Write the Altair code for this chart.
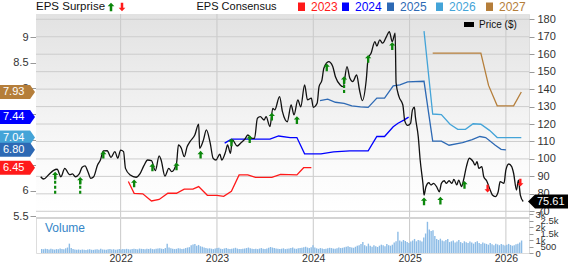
import altair as alt
import pandas as pd

# ---------------- data ----------------
# Weekly closing price ($), time as decimal year
price_t = [2021.17, 2021.20, 2021.25, 2021.30, 2021.34, 2021.38, 2021.42, 2021.47, 2021.50, 2021.53,
           2021.57, 2021.60, 2021.63, 2021.66, 2021.69, 2021.72, 2021.76, 2021.79, 2021.82, 2021.86,
           2021.90, 2021.94, 2021.97, 2022.00, 2022.03, 2022.05, 2022.10, 2022.16, 2022.20, 2022.24,
           2022.28, 2022.32, 2022.36, 2022.40, 2022.42, 2022.46, 2022.50, 2022.53, 2022.58, 2022.60,
           2022.63, 2022.66, 2022.69, 2022.72, 2022.77, 2022.81, 2022.82, 2022.86, 2022.89, 2022.93,
           2022.96, 2022.99, 2023.03, 2023.05, 2023.09, 2023.11, 2023.14, 2023.16, 2023.21, 2023.25,
           2023.29, 2023.32, 2023.36, 2023.39, 2023.42, 2023.45, 2023.49, 2023.51, 2023.55, 2023.58,
           2023.60, 2023.65, 2023.68, 2023.71, 2023.73, 2023.77, 2023.80, 2023.84, 2023.87, 2023.91,
           2023.94, 2023.98, 2024.00, 2024.04, 2024.06, 2024.09, 2024.11, 2024.16, 2024.20, 2024.23,
           2024.28, 2024.31, 2024.35, 2024.38, 2024.41, 2024.45, 2024.48, 2024.51, 2024.55, 2024.57,
           2024.60, 2024.64, 2024.66, 2024.69, 2024.72, 2024.76, 2024.79, 2024.82, 2024.85, 2024.86,
           2024.89, 2024.93, 2024.95, 2024.98, 2025.01, 2025.03, 2025.05, 2025.06, 2025.09, 2025.11,
           2025.14, 2025.15, 2025.17, 2025.20, 2025.22, 2025.25, 2025.28, 2025.31, 2025.33, 2025.36,
           2025.38, 2025.41, 2025.44, 2025.46, 2025.49, 2025.51, 2025.54, 2025.56, 2025.59, 2025.62,
           2025.66, 2025.68, 2025.70, 2025.72, 2025.75, 2025.77, 2025.80, 2025.83, 2025.86, 2025.89,
           2025.92, 2025.94, 2025.98, 2026.00, 2026.03, 2026.06, 2026.08, 2026.11, 2026.13, 2026.15,
           2026.18]
price_v = [89.8, 88.5, 90.8, 93.3, 94.1, 89.8, 94.6, 91.0, 91.4, 89.8,
           91.4, 95.2, 96.0, 92.7, 88.9, 89.8, 96.5, 99.4, 104.6, 104.7,
           100.9, 104.2, 100.4, 105.1, 104.2, 94.6, 90.8, 89.5, 91.4, 96.0,
           99.4, 99.0, 93.3, 101.7, 99.4, 90.2, 94.6, 92.7, 97.5, 108.0,
           106.1, 101.3, 107.0, 109.9, 113.7, 120.0, 106.1, 110.9, 116.6, 109.0,
           100.4, 99.4, 102.8, 99.4, 104.2, 108.0, 103.2, 110.9, 107.4, 109.3,
           111.3, 113.7, 111.8, 111.8, 123.3, 124.2, 122.3, 124.2, 118.5, 129.0,
           128.1, 135.7, 127.1, 122.3, 121.3, 130.9, 125.2, 133.8, 129.9, 142.4,
           133.8, 134.8, 129.6, 131.9, 141.4, 145.2, 152.0, 155.7, 153.3, 147.1,
           142.4, 141.4, 152.9, 146.2, 144.3, 148.1, 139.5, 133.4, 145.2, 157.7,
           160.5, 167.2, 164.7, 168.2, 166.3, 170.1, 172.9, 167.2, 172.0, 143.5,
           135.7, 130.9, 121.8, 119.2, 120.4, 128.1, 129.6, 124.2, 112.8, 99.4,
           85.1, 79.3, 84.1, 86.4, 85.1, 86.0, 84.1, 81.2, 86.0, 87.5,
           86.0, 87.5, 86.0, 88.3, 85.1, 87.9, 84.1, 87.9, 95.6, 100.4,
           98.4, 96.5, 98.4, 94.6, 95.6, 89.8, 87.5, 83.2, 79.3, 78.4,
           81.2, 87.0, 86.0, 93.7, 97.1, 95.6, 91.8, 82.2, 87.9, 79.3,
           75.61]

# EPS consensus by fiscal year
cons_years = ["2023", "2024", "2025", "2026", "2027"]
cons_colors = ["#ff1a1a", "#0000ff", "#2d69b4", "#44a4d8", "#b57e3a"]

eps23_t = [2022.08, 2022.14, 2022.23, 2022.32, 2022.40, 2022.49, 2022.58, 2022.66, 2022.75, 2022.81, 2022.90,
           2023.00, 2023.07, 2023.15, 2023.23, 2023.32, 2023.40, 2023.57, 2023.66, 2023.83, 2023.90, 2023.98]
eps23_v = [6.18, 5.95, 5.94, 5.80, 5.83, 5.95, 5.95, 6.03, 6.03, 6.08, 5.91,
           5.91, 5.89, 5.99, 6.31, 6.31, 6.26, 6.26, 6.32, 6.31, 6.45, 6.45]

eps24_t = [2023.08, 2023.15, 2023.38, 2023.55, 2023.64, 2023.76, 2023.83, 2023.91, 2024.08,
           2024.21, 2024.38, 2024.57, 2024.66, 2024.74, 2024.83, 2024.88, 2024.94, 2024.99]
eps24_v = [6.93, 7.01, 7.01, 7.01, 7.07, 7.04, 7.04, 6.72, 6.72,
           6.76, 6.78, 6.78, 7.06, 7.06, 7.25, 7.32, 7.38, 7.44]

eps25_t = [2024.07, 2024.15, 2024.23, 2024.32, 2024.40, 2024.49, 2024.57, 2024.66, 2024.74, 2024.83,
           2024.90, 2024.98, 2025.15, 2025.24, 2025.33, 2025.41, 2025.55, 2025.65, 2025.73, 2025.79,
           2025.89, 2025.95, 2026.00]
eps25_v = [7.76, 7.79, 7.73, 7.71, 7.66, 7.64, 7.63, 7.81, 7.81, 8.05,
           8.07, 8.13, 8.14, 6.97, 6.97, 6.89, 6.94, 7.00, 7.06, 7.04,
           6.89, 6.81, 6.80]

eps26_t = [2025.15, 2025.24, 2025.33, 2025.42, 2025.50, 2025.58, 2025.66, 2025.74, 2025.83, 2025.91, 2026.16]
eps26_v = [9.12, 7.50, 7.49, 7.30, 7.20, 7.20, 7.31, 7.30, 7.18, 7.04, 7.04]

eps27_t = [2025.24, 2025.74, 2025.82, 2025.91, 2026.08, 2026.16]
eps27_v = [8.69, 8.69, 8.06, 7.66, 7.66, 7.93]

# EPS surprise markers: beats (arrow centre and end of dashed stem, on the price axis) and misses
beat_t = [2021.32, 2021.58, 2021.82, 2022.14, 2022.33, 2022.58, 2022.83, 2023.15, 2023.34,
          2023.57, 2023.83, 2024.14, 2024.32, 2024.57, 2024.82, 2025.15, 2025.32, 2025.57]
beat_at = [90.4, 87.5, 102.4, 86.0, 95.2, 95.8, 102.4, 109.5, 111.4,
           124.2, 122.3, 152.5, 145.2, 157.3, 164.6, 75.7, 76.1, 85.2]
beat_stem = [79.3, 79.3, 102.4, 86.0, 95.2, 95.8, 102.4, 109.5, 111.4,
             124.2, 122.3, 152.5, 137.6, 157.3, 164.6, 75.7, 76.1, 85.2]
miss_t = [2025.81, 2026.15]
miss_at = [83.0, 86.4]

# Weekly volume
vol_v = [310, 280, 330, 300, 270, 320, 290, 260, 300, 280, 340, 310, 290, 360, 420, 720,
         380, 300, 260, 250, 270, 240, 260, 250, 230, 270, 290, 250, 240, 260, 280, 250, 330, 270,
         260, 250, 280, 300, 260, 290, 250, 270, 300,
         260, 300, 280, 320, 290, 270, 310, 330, 300, 280, 340, 320, 300, 290, 330, 310, 350, 300,
         280, 320, 340, 360, 330, 300, 380, 720,
         420, 360, 330, 300, 320, 360, 340, 300, 330, 380, 420, 450, 600, 650, 700, 560, 620, 520,
         480, 420, 380, 340, 360, 330, 300, 350, 380, 400,
         330, 300, 350, 380, 330, 300, 320, 360, 400, 340, 310, 300, 330, 350, 380, 420, 360, 330,
         300, 320, 300, 340, 380, 330, 310, 350, 400, 460, 420, 380, 340, 320, 300, 330, 360, 300,
         320, 350, 380, 420, 340, 320, 360, 380, 400, 440, 480, 420, 380, 450, 600,
         420, 360, 320, 380, 340, 300, 330, 360, 400, 380, 340, 320, 360, 420, 380, 400, 440, 480,
         520, 460, 420, 400, 480, 560, 600, 700, 840,
         600, 520, 720, 560, 480, 600, 520, 460, 560, 640, 600, 520, 700, 600, 560, 640, 800, 900,
         1630, 960, 880, 1000, 920, 840, 760, 880, 960, 1080, 900, 1000, 960, 880, 1200, 1500,
         2400, 1800, 1700, 1750, 1300, 1080, 1000, 1100, 960, 900, 1000, 1080,
         840, 900, 960, 800, 880, 1000, 840, 760, 900, 820, 760, 880, 800, 720, 840, 900, 760, 700,
         800, 740,
         700, 640, 760, 680, 600, 720, 660, 600, 700, 640, 580, 640, 700, 620, 560, 600, 680, 720,
         800, 960]
vol_start = 2021.18

year_ticks = [2022, 2023, 2024, 2025, 2026]
price_ticks = list(range(70, 190, 10))
eps_ticks = [5.5, 6, 6.5, 7, 7.5, 8, 8.5, 9]
vol_ticks = [0, 500, 1000, 1500, 2000, 2500, 3000]

# ---------------- frames ----------------
price_df = pd.DataFrame({"t": price_t, "price": price_v})
cons_df = pd.concat([
    pd.DataFrame({"t": t, "eps": v, "fy": fy})
    for fy, t, v in zip(cons_years,
                        [eps23_t, eps24_t, eps25_t, eps26_t, eps27_t],
                        [eps23_v, eps24_v, eps25_v, eps26_v, eps27_v])
], ignore_index=True)
tags_df = (cons_df.groupby("fy", as_index=False).last()
           .sort_values("eps", ascending=False))
beat_df = pd.DataFrame({"t": beat_t, "at": beat_at, "stem": beat_stem})
miss_df = pd.DataFrame({"t": miss_t, "at": miss_at})
vol_df = pd.DataFrame({"t": [vol_start + i * 7 / 365.25 for i in range(len(vol_v))], "v": vol_v})
last_df = price_df.tail(1)
one = pd.DataFrame({"k": [0]})

# ---------------- layout ----------------
W, H = 493, 239
PANEL = 203          # bottom of the price panel
FONT = "Liberation Sans"

x_scale = alt.Scale(domain=[2021.173, 2026.188], nice=False, zero=False)
price_scale = alt.Scale(domain=[66.73, 183.04], range=[PANEL, 0], nice=False, zero=False)
eps_scale = alt.Scale(domain=[5.486, 9.456], range=[PANEL, 0], nice=False, zero=False)
vol_scale = alt.Scale(domain=[0, 3000], range=[H, 200], nice=False)
fy_color = alt.Scale(domain=cons_years, range=cons_colors)

x_axis = alt.Axis(values=year_ticks, format="d", title=None, grid=False, domain=False, ticks=False,
                  labelPadding=0, labelFontSize=10.5, labelColor="#333", labelFlush=False)


def X(field):
    return alt.X(f"{field}:Q", scale=x_scale, axis=x_axis)


UP = "M0,-1 L0.8,-0.15 L0.3,-0.15 L0.3,1 L-0.3,1 L-0.3,-0.15 L-0.8,-0.15 Z"
DOWN = "M0,1 L0.8,0.15 L0.3,0.15 L0.3,-1 L-0.3,-1 L-0.3,0.15 L-0.8,0.15 Z"
LTAG = "M-1,-0.4 L0.72,-0.4 L1,0 L0.72,0.4 L-1,0.4 Z"
RTAG = "M-1,0 L-0.68,-0.32 L1,-0.32 L1,0.32 L-0.68,0.32 Z"
GREEN = "#0b870b"
RED = "#ff1a1a"

# price panel background
bg = alt.Chart(one).mark_rect(
    color=alt.LinearGradient(gradient="linear", x1=0, x2=0, y1=0, y2=1,
                             stops=[alt.GradientStop(color="#e2e2e2", offset=0),
                                    alt.GradientStop(color="#fbfbfb", offset=0.75),
                                    alt.GradientStop(color="#ffffff", offset=1)])
).encode(x=alt.value(0), x2=alt.value(W), y=alt.value(0), y2=alt.value(PANEL))

vgrid = alt.Chart(pd.DataFrame({"t": year_ticks})).mark_rule(color="#c9c9c9").encode(x=X("t"))

hgrid = alt.Chart(pd.DataFrame({"p": price_ticks})).mark_rule(color="#cdcdcd").encode(
    y=alt.Y("p:Q", scale=price_scale,
            axis=alt.Axis(orient="right", values=price_ticks, title=None, grid=False, domain=False,
                          tickSize=5, tickColor="#999", labelPadding=3, labelFontSize=11,
                          labelColor="#333")))

sep = alt.Chart(one).mark_rule(color="#d4d4d4", strokeWidth=2).encode(
    x=alt.value(0), x2=alt.value(W), y=alt.value(PANEL + 1))

vol = alt.Chart(vol_df).mark_bar(width=1.4, color="#8dbce6").encode(
    x=X("t"),
    y=alt.Y("v:Q", scale=vol_scale,
            axis=alt.Axis(orient="right", values=vol_ticks, title=None, grid=False, domain=False,
                          tickSize=4, tickColor="#999", labelFontSize=9.5, labelColor="#333",
                          labelOverlap=False, labelBound=False,
                          labelExpr="datum.value == 0 ? '0' : datum.value < 1000 ? '500' : (datum.value / 1000) + 'k'",
                          labelPadding={"condition": {"test": "datum.value % 1000 != 0", "value": 7},
                                        "value": 2})))

vol_label = alt.Chart(one).mark_text(align="left", baseline="middle", fontSize=12, color="#3586c8",
                                     font=FONT).encode(
    x=alt.value(9), y=alt.value(214), text=alt.value("Volume"))

cons = alt.Chart(cons_df).mark_line(strokeWidth=1.3).encode(
    x=X("t"),
    y=alt.Y("eps:Q", scale=eps_scale,
            axis=alt.Axis(orient="left", values=eps_ticks, title=None, grid=False, domain=False,
                          tickSize=6, tickColor="#999", labelPadding=2, labelFontSize=11,
                          labelColor="#333", labelExpr="'' + datum.value")),
    color=alt.Color("fy:N", scale=fy_color, legend=None),
    order=alt.Order("t:Q"))

price = alt.Chart(price_df).mark_line(color="#111111", strokeWidth=1.3, interpolate="monotone").encode(
    x=X("t"), y=alt.Y("price:Q", scale=price_scale, axis=None))

stems = alt.Chart(beat_df).mark_rule(color=GREEN, strokeWidth=2.2, strokeDash=[3, 2]).encode(
    x=X("t"), y=alt.Y("at:Q", scale=price_scale, axis=None), y2="stem:Q")

beats = alt.Chart(beat_df).mark_point(shape=UP, filled=True, size=60, color=GREEN, opacity=1).encode(
    x=X("t"), y=alt.Y("at:Q", scale=price_scale, axis=None))

misses = alt.Chart(miss_df).mark_point(shape=DOWN, filled=True, size=60, color=RED, opacity=1).encode(
    x=X("t"), y=alt.Y("at:Q", scale=price_scale, axis=None))

tag_shapes = alt.Chart(tags_df).mark_point(shape=LTAG, filled=True, size=1225, opacity=1).encode(
    x=alt.value(-18.5), y=alt.Y("eps:Q", scale=eps_scale, axis=None),
    color=alt.Color("fy:N", scale=fy_color, legend=None))
tag_text = alt.Chart(tags_df).mark_text(align="left", baseline="middle", fontSize=11, color="white",
                                        font=FONT).encode(
    x=alt.value(-33), y=alt.Y("eps:Q", scale=eps_scale, axis=None),
    text=alt.Text("eps:Q", format=".2f"))

last_shape = alt.Chart(last_df).mark_point(shape=RTAG, filled=True, size=1936, color="#000",
                                           opacity=1).encode(
    x=alt.value(514), y=alt.Y("price:Q", scale=price_scale, axis=None))
last_text = alt.Chart(last_df).mark_text(align="left", baseline="middle", fontSize=11, color="white",
                                         font=FONT).encode(
    x=alt.value(501), y=alt.Y("price:Q", scale=price_scale, axis=None),
    text=alt.Text("price:Q", format=".2f"))

# header legends
HY = -7
header = [
    alt.Chart(one).mark_text(align="left", baseline="middle", fontSize=11.5, color="#111",
                             font=FONT).encode(x=alt.value(0), y=alt.value(HY),
                                               text=alt.value("EPS Surprise")),
    alt.Chart(one).mark_point(shape=UP, filled=True, size=70, color=GREEN, opacity=1).encode(
        x=alt.value(75), y=alt.value(HY)),
    alt.Chart(one).mark_point(shape=DOWN, filled=True, size=70, color=RED, opacity=1).encode(
        x=alt.value(86), y=alt.value(HY)),
    alt.Chart(one).mark_text(align="left", baseline="middle", fontSize=11, color="#111",
                             font=FONT).encode(x=alt.value(160.5), y=alt.value(HY),
                                               text=alt.value("EPS Consensus")),
    alt.Chart(one).mark_rect(color="#000").encode(x=alt.value(428), x2=alt.value(438),
                                                   y=alt.value(8), y2=alt.value(13)),
    alt.Chart(one).mark_text(align="left", baseline="middle", fontSize=10, color="#111",
                             font=FONT).encode(x=alt.value(443), y=alt.value(11),
                                               text=alt.value("Price ($)")),
]
legend_x = [262, 306, 351, 400, 450]
for fy, col, lx in zip(cons_years, cons_colors, legend_x):
    header.append(alt.Chart(one).mark_rect(color=col).encode(
        x=alt.value(lx), x2=alt.value(lx + 7), y=alt.value(HY - 4.5), y2=alt.value(HY + 4)))
    header.append(alt.Chart(one).mark_text(align="left", baseline="middle", fontSize=12, color=col,
                                           font=FONT).encode(
        x=alt.value(lx + 13), y=alt.value(HY), text=alt.value(fy)))

chart = alt.layer(
    bg, vgrid, hgrid, sep, vol, vol_label, cons, price, stems, beats, misses,
    tag_shapes, tag_text, last_shape, last_text, *header
).resolve_scale(y="independent").properties(
    width=W, height=H,
    autosize=alt.AutoSizeParams(type="none"),
    padding={"left": 36, "top": 14, "right": 39, "bottom": 11},
    background="white",
).configure_view(stroke="#c4c4c4", strokeWidth=1).configure(font=FONT)

chart.save("out.html", embed_options={"renderer": "svg", "actions": False})
